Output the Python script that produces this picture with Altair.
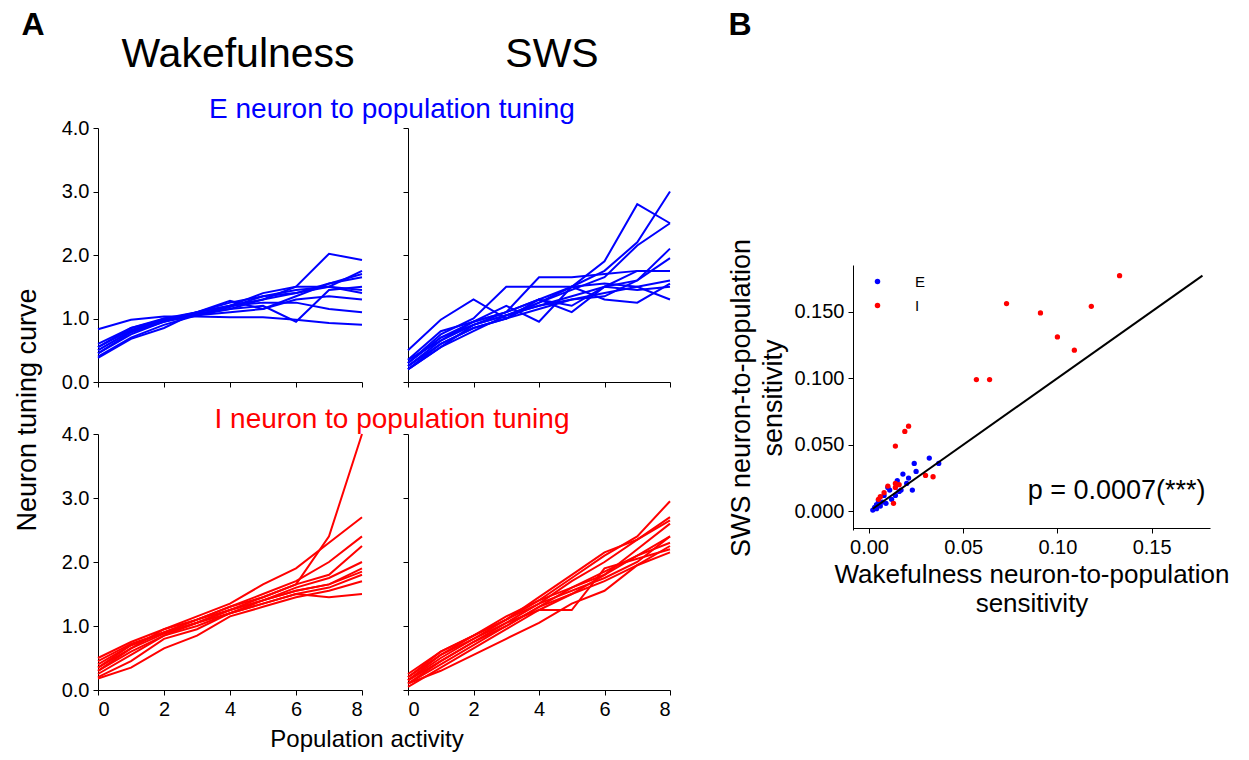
import pandas as pd
import altair as alt

FONT = "Liberation Sans"
activity = [0, 1, 2, 3, 4, 5, 6, 7, 8]

e_wake = [
    [.83, .98, 1.03, 1.03, 1.02, 1.02, .98, .93, .90],
    [.55, .85, 1.00, 1.05, 1.15, 1.30, 1.50, 2.02, 1.92],
    [.50, .80, .98, 1.10, 1.25, 1.35, 1.40, 1.50, 1.75],
    [.45, .75, .95, 1.10, 1.20, 1.30, 1.40, 1.55, 1.65],
    [.40, .70, .90, 1.05, 1.20, 1.40, 1.50, 1.50, 1.45],
    [.60, .85, .98, 1.08, 1.15, 1.20, .95, 1.45, 1.50],
    [.38, .68, .85, 1.10, 1.28, 1.15, 1.30, 1.35, 1.30],
    [.50, .80, 1.00, 1.10, 1.20, 1.25, 1.25, 1.15, 1.10],
    [.45, .78, .95, 1.05, 1.18, 1.35, 1.45, 1.50, 1.40],
    [.55, .82, .97, 1.05, 1.10, 1.15, 1.35, 1.55, 1.70],
]
e_sws = [
    [.50, .98, 1.30, 1.00, 1.30, 1.10, 1.50, 1.45, 1.50],
    [.20, .60, .85, 1.00, 1.25, 1.50, 1.75, 2.20, 3.00],
    [.30, .70, .95, 1.10, 1.30, 1.50, 1.90, 2.80, 2.50],
    [.25, .65, .90, 1.05, 1.25, 1.45, 1.65, 2.15, 2.50],
    [.30, .75, 1.00, 1.50, 1.50, 1.50, 1.55, 1.50, 1.30],
    [.35, .80, .95, 1.10, 1.65, 1.65, 1.70, 1.75, 1.75],
    [.20, .55, .80, 1.05, 1.20, 1.35, 1.50, 1.60, 2.10],
    [.25, .60, .85, 1.00, 1.15, 1.30, 1.35, 1.60, 1.95],
    [.30, .70, .90, 1.05, 1.20, 1.30, 1.40, 1.50, 1.60],
    [.35, .65, .95, 1.20, .95, 1.50, 1.30, 1.25, 1.55],
    [.20, .55, .90, 1.10, 1.30, 1.20, 1.50, 1.75, 1.75],
]
i_wake = [
    [.35, .65, .95, 1.10, 1.30, 1.45, 1.65, 2.40, 4.00],
    [.50, .75, .95, 1.15, 1.35, 1.65, 1.90, 2.30, 2.70],
    [.45, .72, .90, 1.10, 1.30, 1.50, 1.70, 2.00, 2.40],
    [.40, .70, .90, 1.05, 1.25, 1.45, 1.65, 1.80, 2.25],
    [.30, .65, .88, 1.05, 1.25, 1.40, 1.60, 1.75, 2.00],
    [.25, .55, .85, 1.00, 1.20, 1.40, 1.55, 1.65, 1.90],
    [.20, .45, .80, .95, 1.20, 1.35, 1.50, 1.60, 1.80],
    [.18, .35, .65, .85, 1.15, 1.30, 1.45, 1.55, 1.70],
    [.30, .60, .85, 1.05, 1.20, 1.35, 1.50, 1.45, 1.50],
    [.35, .70, .90, 1.10, 1.25, 1.40, 1.55, 1.65, 1.85],
]
i_sws = [
    [.20, .60, .85, 1.10, 1.40, 1.75, 2.10, 2.40, 2.95],
    [.15, .55, .85, 1.10, 1.45, 1.80, 2.15, 2.35, 2.70],
    [.10, .45, .75, 1.05, 1.35, 1.70, 2.00, 2.35, 2.65],
    [.25, .60, .85, 1.15, 1.40, 1.60, 1.80, 2.20, 2.60],
    [.15, .50, .80, 1.10, 1.35, 1.55, 1.75, 2.00, 2.40],
    [.10, .40, .70, 1.00, 1.30, 1.50, 1.80, 2.10, 2.30],
    [.20, .55, .80, 1.05, 1.25, 1.25, 1.90, 2.05, 2.20],
    [.05, .35, .65, .95, 1.25, 1.50, 1.70, 1.95, 2.15],
    [.10, .30, .55, .80, 1.05, 1.35, 1.55, 1.95, 2.25],
    [.15, .45, .75, 1.00, 1.30, 1.60, 1.85, 2.10, 2.40],
]

wake_e = [.032, .037, .024, .025, .018, .021, .015, .010, .011, .020, .023, .017,
          .008, .005, .004, .003, .002, .007, .009, .012, .006, .004, .014, .016]
sws_e = [.040, .036, .036, .030, .028, .025, .023, .018, .016, .021, .016, .016,
         .012, .008, .005, .003, .001, .007, .006, .009, .004, .002, .012, .015]
wake_i = [.133, .073, .091, .118, .100, .109, .057, .064, .021, .019, .014, .014,
          .030, .034, .014, .010, .006, .008, .013, .016, .005]
sws_i = [.177, .156, .149, .154, .131, .121, .099, .099, .064, .060, .049, .018,
         .027, .026, .021, .019, .011, .014, .006, .020, .009]
diag = [0.002, 0.177]

W, H = 1233, 744  # one big view; every panel gets its own pixel range in it


def long(curves):
    rows = []
    for k, c in enumerate(curves):
        for x, y in zip(activity, c):
            rows.append({"neuron": k, "x": x, "y": y})
    return pd.DataFrame(rows)


def panel(curves, color, xr, yr, xlabels, ylabels, texts):
    xs = alt.Scale(domain=[0, 8], range=xr, nice=False)
    ys = alt.Scale(domain=[0, 4], range=yr, nice=False)
    lines = alt.Chart(long(curves)).mark_line(color=color, strokeWidth=2, clip=False).encode(
        x=alt.X("x:Q", scale=xs,
                axis=alt.Axis(title=None, values=[0, 2, 4, 6, 8], labels=xlabels, format="d",
                              orient="bottom", offset=yr[0] - H)),
        y=alt.Y("y:Q", scale=ys,
                axis=alt.Axis(title=None, values=[0, 1, 2, 3, 4], labels=ylabels, format=".1f",
                              orient="left", offset=-xr[0])),
        detail="neuron:N",
    )
    layers = [lines]
    for text, x, y, dx, dy, size, col, angle, weight in texts:
        layers.append(alt.Chart(pd.DataFrame({"x": [x], "y": [y], "t": [text]})).mark_text(
            fontSize=size, color=col, font=FONT, dx=dx, dy=dy, angle=angle, clip=False,
            fontWeight=weight
        ).encode(x=alt.X("x:Q", scale=xs), y=alt.Y("y:Q", scale=ys), text="t:N"))
    return alt.layer(*layers)


BLUE, RED = "#0000ff", "#ff0000"
ew = panel(e_wake, BLUE, [90, 354], [374, 120], False, True, [
    ("Wakefulness", 4, 4, 8, -73, 41, "black", 0, "normal"),
    ("E neuron to population tuning", 8, 4, 30, -18, 28, BLUE, 0, "normal"),
    ("A", 0, 4, -65, -103, 32, "black", 0, "bold"),
    ("Neuron tuning curve", 0, 0, -28, -70, 27, "black", 270, "normal"),
])
es = panel(e_sws, BLUE, [400, 662], [374, 120], False, False, [
    ("SWS", 4, 4, 13, -73, 41, "black", 0, "normal"),
])
iw = panel(i_wake, RED, [90, 354], [682, 426], True, True, [
    ("I neuron to population tuning", 8, 4, 30, -14, 28, RED, 0, "normal"),
    ("Population activity", 8, 0, 5, 50, 24, "black", 0, "normal"),
])
isw = panel(i_sws, RED, [400, 662], [682, 426], True, False, [])

sc = pd.DataFrame({
    "w": wake_e + wake_i,
    "s": sws_e + sws_i,
    "type": ["E"] * len(wake_e) + ["I"] * len(wake_i),
})
sx = alt.Scale(domain=[-0.0085, 0.181], range=[845, 1202], nice=False)
sy = alt.Scale(domain=[-0.014, 0.185], range=[522, 257], nice=False)
pts = alt.Chart(sc).mark_circle(size=28, opacity=1).encode(
    x=alt.X("w:Q", scale=sx,
            axis=alt.Axis(values=[0, 0.05, 0.1, 0.15], format=".2f", orient="bottom", offset=520 - H,
                          title=["Wakefulness neuron-to-population", "sensitivity"],
                          titleFontSize=26, titleLineHeight=29, titlePadding=4)),
    y=alt.Y("s:Q", scale=sy,
            axis=alt.Axis(values=[0, 0.05, 0.1, 0.15], format=".3f", orient="left", offset=-845,
                          title=["SWS neuron-to-population", "sensitivity"],
                          titleFontSize=27, titleLineHeight=32, titlePadding=6)),
    color=alt.Color("type:N", scale=alt.Scale(domain=["E", "I"], range=[BLUE, RED]),
                    legend=alt.Legend(title=None, orient="none", legendX=862, legendY=266,
                                      labelFontSize=15, labelOffset=30, symbolSize=30,
                                      rowPadding=8, labelFont=FONT)),
)
line = alt.Chart(pd.DataFrame({"w": diag, "s": diag})).mark_line(color="black", strokeWidth=2).encode(
    x=alt.X("w:Q", scale=sx), y=alt.Y("s:Q", scale=sy))
p_lbl = alt.Chart(pd.DataFrame({"w": [0.15], "s": [0.0], "t": ["p = 0.0007(***)"]})).mark_text(
    fontSize=27, font=FONT, dx=-35, dy=-20).encode(
    x=alt.X("w:Q", scale=sx), y=alt.Y("s:Q", scale=sy), text="t:N")
b_lbl = alt.Chart(pd.DataFrame({"w": [0.0], "s": [0.185], "t": ["B"]})).mark_text(
    fontSize=32, font=FONT, fontWeight="bold", dx=-129, dy=-240).encode(
    x=alt.X("w:Q", scale=sx), y=alt.Y("s:Q", scale=sy), text="t:N")
scatter = alt.layer(pts, line, p_lbl, b_lbl)

chart = alt.layer(ew, es, iw, isw, scatter).resolve_scale(
    x="independent", y="independent", color="independent"
).resolve_axis(x="independent", y="independent").properties(
    width=W, height=H, autosize=alt.AutoSizeParams(type="none"), padding=0
).configure_view(stroke=None).configure_axis(
    labelFont=FONT, titleFont=FONT, labelFontSize=20, titleFontSize=22, labelColor="black",
    titleColor="black", domainColor="black", tickColor="black", grid=False, titleFontWeight="normal",
    labelPadding=4,
)

chart.save("out.html", embed_options={"renderer": "svg", "actions": False})
